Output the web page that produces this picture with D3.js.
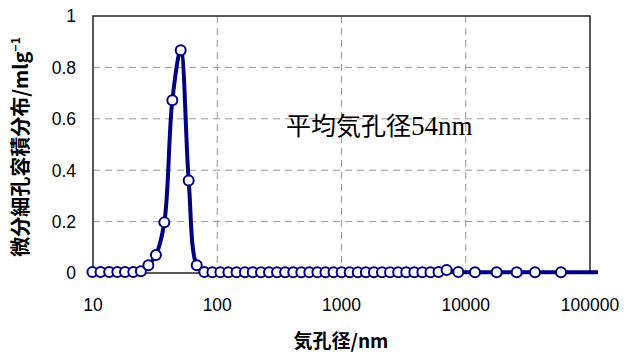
<!DOCTYPE html>
<html>
<head>
<meta charset="utf-8">
<script src="https://cdn.jsdelivr.net/npm/d3@7"></script>
<style>
  body { margin: 0; background: #fff; }
  text { font-family: "Liberation Sans", Arial, sans-serif; }
</style>
</head>
<body>
<svg width="638" height="353"></svg>
<script>
// Pore diameter (nm)
var poreSize = [9.9, 11.5, 13.5, 15.7, 18.1, 21.1, 24.3, 27.9, 32.1, 37.5, 43.5, 50.8, 58.9, 68.4, 78.7,
  91.4, 106, 123, 143, 167, 193, 225, 261, 303, 352, 409, 475, 551, 640, 743, 863,
  1002, 1164, 1352, 1570, 1824, 2118, 2460, 2858, 3319, 3855, 4477, 5200, 6039, 7015,
  8710, 11860, 17740, 25700, 36070, 58480, 116000];
// Differential pore volume (ml/g)
var poreVolume = [0.004, 0.004, 0.004, 0.004, 0.004, 0.004, 0.007, 0.03, 0.07, 0.197, 0.672, 0.867, 0.36, 0.03, 0.004,
  0.003, 0.003, 0.003, 0.003, 0.003, 0.003, 0.003, 0.003, 0.003, 0.003, 0.003, 0.003, 0.003, 0.003, 0.003, 0.003,
  0.003, 0.003, 0.003, 0.003, 0.003, 0.003, 0.003, 0.003, 0.003, 0.003, 0.003, 0.003, 0.004, 0.012,
  0.004, 0.003, 0.003, 0.003, 0.003, 0.003, 0.003];
var xTicks = [10, 100, 1000, 10000, 100000];
var yTicks = [0, 0.2, 0.4, 0.6, 0.8, 1];

var data = poreSize.map(function(d, i) { return {x: d, y: poreVolume[i]}; });

var svg = d3.select("svg");
var plotLeft = 93, plotRight = 590, plotTop = 16, plotBottom = 273;

var x = d3.scaleLog().domain([10, 100000]).range([plotLeft, plotRight]);
var y = d3.scaleLinear().domain([0, 1]).range([plotBottom, plotTop]);

// gridlines
svg.selectAll(".hgrid")
  .data(yTicks.filter(function(d) { return d > 0 && d < 1; }))
  .enter().append("line")
    .attr("x1", plotLeft).attr("x2", plotRight)
    .attr("y1", function(d) { return y(d); })
    .attr("y2", function(d) { return y(d); })
    .attr("stroke", "#999").attr("stroke-dasharray", "7,5");

svg.selectAll(".vgrid")
  .data(xTicks.slice(1, -1))
  .enter().append("line")
    .attr("x1", function(d) { return x(d); })
    .attr("x2", function(d) { return x(d); })
    .attr("y1", plotTop).attr("y2", plotBottom)
    .attr("stroke", "#999").attr("stroke-dasharray", "7,5");

// plot border
svg.append("rect")
  .attr("x", plotLeft).attr("y", plotTop)
  .attr("width", plotRight - plotLeft).attr("height", plotBottom - plotTop)
  .attr("fill", "none").attr("stroke", "#222").attr("stroke-width", 1.5);

// axis labels
svg.selectAll(".ylab")
  .data(yTicks)
  .enter().append("text")
    .attr("x", 76)
    .attr("y", function(d) { return y(d); })
    .attr("dy", "0.36em")
    .attr("text-anchor", "end")
    .attr("font-size", 17.5)
    .text(function(d) { return d; });

svg.selectAll(".xlab")
  .data(xTicks)
  .enter().append("text")
    .attr("x", function(d) { return x(d); })
    .attr("y", 305)
    .attr("dy", "0.36em")
    .attr("text-anchor", "middle")
    .attr("font-size", 17.5)
    .text(function(d) { return d; });

// series
var line = d3.line()
  .x(function(d) { return x(d.x); })
  .y(function(d) { return y(d.y); })
  .curve(d3.curveCatmullRom);

svg.append("path")
  .datum(data)
  .attr("d", line)
  .attr("fill", "none")
  .attr("stroke", "#000080")
  .attr("stroke-width", 4);

svg.selectAll(".pt")
  .data(data.slice(0, -1))
  .enter().append("circle")
    .attr("cx", function(d) { return x(d.x); })
    .attr("cy", function(d) { return y(d.y); })
    .attr("r", 5)
    .attr("fill", "#fff")
    .attr("stroke", "#000080")
    .attr("stroke-width", 2);

// annotation
var note = svg.append("text")
  .attr("x", 286).attr("y", 135)
  .attr("font-size", 25);
note.append("tspan")
  .style("font-family", "'Noto Sans CJK JP', sans-serif")
  .text("平均気孔径");
note.append("tspan")
  .attr("font-size", 27)
  .style("font-family", "'Liberation Serif', serif")
  .text("54nm");

// axis titles
svg.append("text")
  .attr("x", 341).attr("y", 348)
  .attr("text-anchor", "middle")
  .attr("font-size", 19)
  .attr("font-weight", "bold")
  .style("font-family", "'Noto Sans CJK JP', sans-serif")
  .text("気孔径/nm");

var yt = svg.append("text")
  .attr("transform", "translate(28,147) rotate(-90)")
  .attr("text-anchor", "middle")
  .attr("font-size", 20)
  .attr("font-weight", "bold")
  .style("font-family", "'Noto Sans CJK JP', sans-serif");
yt.append("tspan").text("微分細孔容積分布/mlg");
yt.append("tspan").attr("dy", -8).attr("font-size", 12).text("−1");
</script>
</body>
</html>
